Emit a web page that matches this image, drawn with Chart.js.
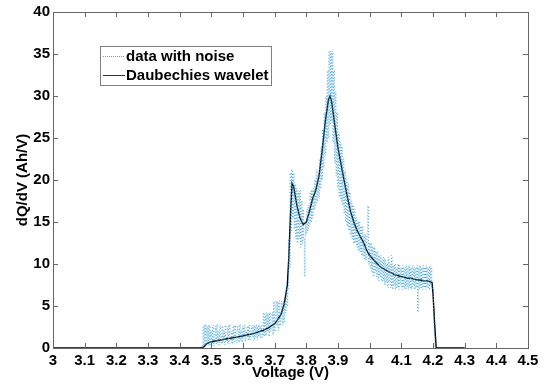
<!DOCTYPE html>
<html>
<head>
<meta charset="utf-8">
<script src="https://cdn.jsdelivr.net/npm/chart.js@4/dist/chart.umd.min.js"></script>
<style>
  html, body { margin: 0; padding: 0; background: #fff; }
  #wrap { width: 547px; height: 386px; }
</style>
</head>
<body>
<div id="wrap"><canvas id="c" width="547" height="386"></canvas></div>
<script>
// Incremental capacity curve: raw dQ/dV and its Daubechies-wavelet denoised version

// raw (noisy) dQ/dV samples, one every 0.0025 V starting at 3.47 V
const noiseStartV = 3.47;
const noiseStepV = 0.0025;
const noiseValues = [
  0, 0.2, 2.6, 0.3, 2.8, 0.2, 2.6, 0.5, 2.7, 0.3,
  2.6, 0.4, 2.0, 0.6, 2.7, 0.3, 1.3, 2.6, 0.5, 2.8,
  0.6, 2.0, 0.4, 2.7, 1.3, 0.5, 2.6, 0.7, 2.0, 0.4,
  2.7, 1.3, 0.6, 2.6, 0.5, 2.8, 1.3, 0.7, 2.0, 0.5,
  2.6, 0.8, 2.7, 1.3, 0.6, 2.6, 2.0, 0.7, 2.8, 0.9,
  2.0, 0.7, 2.6, 1.3, 2.7, 0.8, 2.0, 1.3, 2.6, 0.9,
  2.7, 1.0, 2.0, 2.6, 1.3, 2.7, 0.9, 2.6, 1.3, 2.8,
  1.0, 2.6, 1.4, 2.7, 1.2, 2.6, 2.0, 1.3, 4.2, 1.4,
  4.0, 1.5, 4.2, 2.0, 4.1, 1.4, 4.2, 2.0, 2.6, 4.2,
  1.6, 5.5, 2.0, 4.2, 5.6, 2.6, 5.5, 2.1, 5.6, 2.7,
  4.2, 5.6, 2.8, 5.5, 3.0, 5.6, 4.2, 7.3, 5.0, 6.9,
  13.0, 9.5, 20.8, 14.0, 21.2, 15.5, 20.8, 14.2, 19.5, 13.0,
  19.0, 12.5, 18.5, 13.0, 18.8, 12.0, 17.5, 12.5, 16.5, 13.0,
  8.5, 15.0, 13.5, 16.5, 14.0, 17.0, 14.5, 18.5, 15.0, 18.8,
  15.5, 19.0, 16.5, 20.0, 17.0, 21.2, 17.5, 20.5, 18.0, 22.5,
  19.0, 24.0, 20.0, 26.0, 21.5, 28.0, 23.0, 30.0, 24.5, 33.0,
  25.0, 35.3, 26.5, 35.3, 27.0, 35.3, 24.5, 33.0, 22.0, 30.5,
  20.5, 28.0, 19.0, 25.5, 18.0, 24.5, 17.5, 24.0, 17.0, 22.5,
  16.0, 21.0, 15.0, 20.0, 14.5, 19.5, 14.0, 18.5, 13.5, 17.5,
  13.0, 17.0, 12.5, 16.5, 12.5, 15.5, 12.0, 15.0, 11.5, 15.0,
  11.5, 14.5, 11.0, 14.5, 11.0, 13.5, 10.5, 13.5, 10.5, 13.0,
  16.9, 10.0, 12.5, 9.5, 12.5, 9.0, 12.0, 8.5, 12.0, 9.0,
  11.5, 8.5, 11.5, 8.0, 11.0, 8.5, 11.0, 8.0, 10.5, 8.0,
  10.8, 7.5, 10.5, 7.8, 10.0, 7.2, 10.8, 8.0, 10.0, 7.2,
  11.0, 7.0, 9.8, 7.5, 10.0, 7.0, 9.5, 7.2, 10.0, 7.0,
  9.8, 7.5, 9.5, 7.0, 9.8, 7.2, 9.5, 7.0, 9.8, 7.3,
  9.6, 7.0, 9.8, 7.2, 9.5, 7.0, 9.8, 7.3, 9.6, 7.0,
  9.5, 7.2, 9.8, 4.3, 9.6, 7.0, 9.8, 7.2, 9.5, 7.0,
  9.8, 7.2, 9.6, 7.0, 9.8, 7.2, 9.5, 7.0, 9.8, 7.5,
  9.6, 7.2, 7.0, 4.0, 1.5, 0, 0
];

// denoised curve: voltages and dQ/dV values
const smoothV = [
  3.00, 3.465, 3.475, 3.485, 3.50, 3.52, 3.55, 3.58, 3.60, 3.62,
  3.64, 3.66, 3.68, 3.70, 3.71, 3.72, 3.73, 3.74, 3.745, 3.75,
  3.755, 3.76, 3.77, 3.78, 3.79, 3.80, 3.81, 3.82, 3.83, 3.84,
  3.85, 3.86, 3.87, 3.875, 3.88, 3.89, 3.90, 3.91, 3.92, 3.93,
  3.94, 3.95, 3.96, 3.97, 3.98, 3.99, 4.00, 4.01, 4.02, 4.03,
  4.04, 4.05, 4.06, 4.07, 4.08, 4.09, 4.10, 4.11, 4.12, 4.13,
  4.14, 4.15, 4.16, 4.17, 4.18, 4.19, 4.197, 4.20, 4.205, 4.21,
  4.30
];
const smoothQ = [
  0, 0, 0.1, 0.5, 0.75, 0.9, 1.1, 1.3, 1.45, 1.6,
  1.8, 2.05, 2.4, 2.9, 3.4, 4.0, 5.2, 7.5, 11.0, 16.0,
  19.6, 19.2, 17.0, 15.5, 14.7, 15.0, 16.3, 17.8, 18.8, 20.5,
  23.5, 27.0, 29.6, 30.0, 29.3, 26.5, 23.8, 21.8, 19.8, 17.9,
  16.2, 15.0, 14.0, 13.3, 12.6, 11.7, 11.0, 10.6, 10.2, 9.8,
  9.5, 9.3, 9.1, 8.9, 8.7, 8.6, 8.5, 8.4, 8.3, 8.3,
  8.2, 8.1, 8.1, 8.0, 8.0, 7.9, 7.8, 6.5, 3.0, 0,
  0
];

// axis ticks
const xTicks = [3, 3.1, 3.2, 3.3, 3.4, 3.5, 3.6, 3.7, 3.8, 3.9, 4, 4.1, 4.2, 4.3, 4.4, 4.5];
const yTicks = [0, 5, 10, 15, 20, 25, 30, 35, 40];

const legendLabels = ['data with noise', 'Daubechies wavelet'];

const noiseColor = 'rgba(50,155,220,0.9)';
const lineColor = '#000000';
const boxColor = '#666666';
const fontFamily = '"Liberation Sans", Arial, sans-serif';

const noisePoints = noiseValues.map((q, i) => ({ x: noiseStartV + i * noiseStepV, y: q }));
const smoothPoints = smoothV.map((v, i) => ({ x: v, y: smoothQ[i] }));

// frame with inward tick marks on all four sides
const frameTicks = {
  id: 'frameTicks',
  afterDatasetsDraw(chart) {
    const { ctx, chartArea: a, scales } = chart;
    const len = 5;
    ctx.save();
    ctx.strokeStyle = boxColor;
    ctx.lineWidth = 1;
    ctx.beginPath();
    xTicks.forEach(v => {
      const px = Math.round(scales.x.getPixelForValue(v)) + 0.5;
      ctx.moveTo(px, a.bottom); ctx.lineTo(px, a.bottom - len);
      ctx.moveTo(px, a.top); ctx.lineTo(px, a.top + len);
    });
    yTicks.forEach(v => {
      const py = Math.round(scales.y.getPixelForValue(v)) + 0.5;
      ctx.moveTo(a.left, py); ctx.lineTo(a.left + len, py);
      ctx.moveTo(a.right, py); ctx.lineTo(a.right - len, py);
    });
    ctx.stroke();
    ctx.strokeRect(Math.round(a.left) + 0.5, Math.round(a.top) + 0.5,
                   Math.round(a.right - a.left), Math.round(a.bottom - a.top));
    ctx.restore();
  }
};

// boxed legend in the upper left of the plot
const boxLegend = {
  id: 'boxLegend',
  afterDraw(chart) {
    const { ctx } = chart;
    const bx = 100.5, by = 46.5, bw = 171, bh = 39;
    ctx.save();
    ctx.fillStyle = '#ffffff';
    ctx.fillRect(bx, by, bw, bh);
    ctx.strokeStyle = '#808080';
    ctx.lineWidth = 1;
    ctx.strokeRect(bx, by, bw, bh);

    const rows = [56.5, 75.5];
    // noise sample
    ctx.strokeStyle = noiseColor;
    ctx.setLineDash([1, 1]);
    ctx.beginPath(); ctx.moveTo(103, rows[0]); ctx.lineTo(125, rows[0]); ctx.stroke();
    // wavelet sample
    ctx.setLineDash([]);
    ctx.strokeStyle = '#333333';
    ctx.beginPath(); ctx.moveTo(103, rows[1]); ctx.lineTo(125, rows[1]); ctx.stroke();

    ctx.fillStyle = '#000000';
    ctx.font = 'bold 15px ' + fontFamily;
    ctx.textBaseline = 'middle';
    ctx.textAlign = 'left';
    ctx.fillText(legendLabels[0], 126, rows[0]);
    ctx.fillText(legendLabels[1], 126, rows[1]);
    ctx.restore();
  }
};

new Chart(document.getElementById('c'), {
  type: 'scatter',
  data: {
    datasets: [
      {
        label: legendLabels[0],
        data: noisePoints,
        showLine: true,
        stepped: 'middle',
        borderColor: noiseColor,
        borderWidth: 1,
        borderDash: [1, 2],
        pointRadius: 0
      },
      {
        label: legendLabels[1],
        data: smoothPoints,
        showLine: true,
        borderColor: lineColor,
        borderWidth: 1.4,
        pointRadius: 0,
        tension: 0
      }
    ]
  },
  options: {
    responsive: false,
    animation: false,
    devicePixelRatio: 1,
    layout: { padding: { left: 0, right: 19, top: 12, bottom: 0 } },
    plugins: { legend: { display: false }, tooltip: { enabled: false } },
    scales: {
      x: {
        type: 'linear',
        min: 3, max: 4.5,
        afterBuildTicks: s => { s.ticks = xTicks.map(v => ({ value: v })); },
        afterFit: s => { s.height = 38; },
        grid: { display: false, drawTicks: false },
        border: { display: false },
        ticks: {
          autoSkip: false, maxRotation: 0, padding: 4,
          color: '#000', font: { family: fontFamily, size: 15, weight: 'bold' },
          callback: v => String(Math.round(v * 10) / 10)
        },
        title: {
          display: true, text: 'Voltage (V)', color: '#000',
          font: { family: fontFamily, size: 15, weight: 'bold' },
          padding: { top: 0, bottom: 4 }
        }
      },
      y: {
        type: 'linear',
        min: 0, max: 40,
        afterBuildTicks: s => { s.ticks = yTicks.map(v => ({ value: v })); },
        afterFit: s => { s.width = 53; },
        grid: { display: false, drawTicks: false },
        border: { display: false },
        ticks: {
          padding: 3,
          color: '#000', font: { family: fontFamily, size: 15, weight: 'bold' },
          callback: v => String(v)
        },
        title: {
          display: true, text: 'dQ/dV (Ah/V)', color: '#000',
          font: { family: fontFamily, size: 15, weight: 'bold' },
          padding: { top: 14, bottom: 0 }
        }
      }
    }
  },
  plugins: [frameTicks, boxLegend]
});
</script>
</body>
</html>
